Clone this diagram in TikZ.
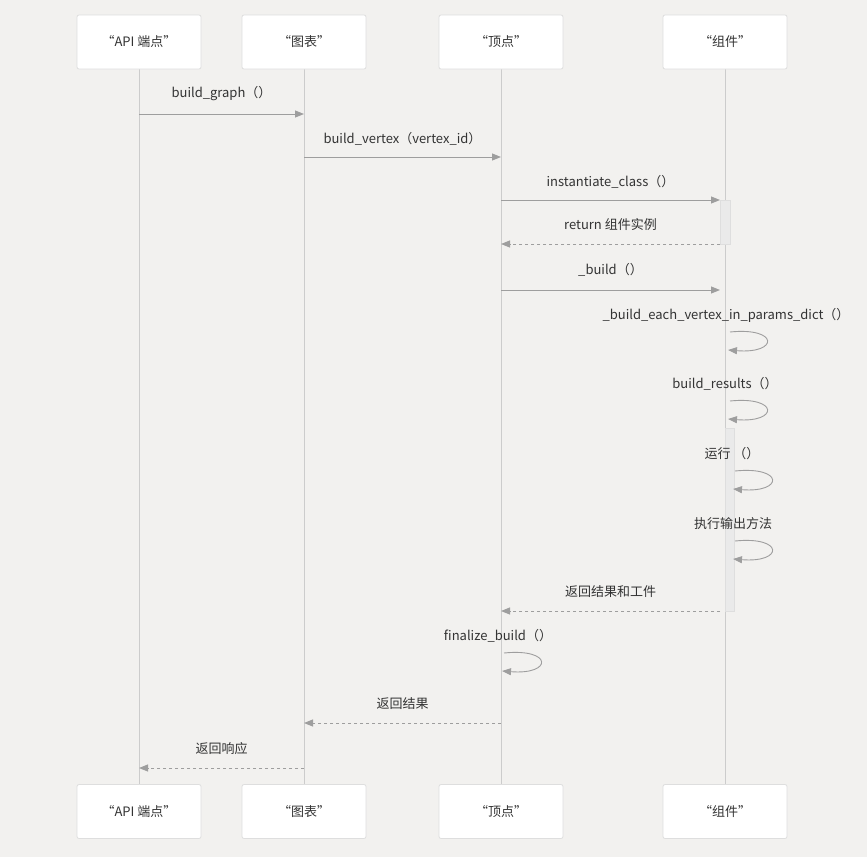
\documentclass[tikz,border=0pt]{standalone}
\usepackage{fontspec}
\setmainfont{Noto Sans CJK SC}
\usepackage{tikz}
\usetikzlibrary{arrows.meta,positioning,calc}
\definecolor{canvasgray}{HTML}{F2F1EF}
\definecolor{boxline}{HTML}{DEDEDE}
\definecolor{lifeline}{HTML}{CCCCCC}
\definecolor{msgline}{HTML}{9E9E9E}
\definecolor{labeltext}{HTML}{333333}
\definecolor{actfill}{HTML}{EAEAEA}

\begin{document}
\begin{tikzpicture}[x=1pt,y=-1pt,>={Triangle[length=9pt,width=7pt]}]
\tikzstyle{actor}=[draw=boxline,fill=white,rounded corners=2pt,minimum width=124pt,minimum height=54pt,font=\fontsize{13}{15}\selectfont,text=labeltext,line width=0.8pt]
\tikzstyle{msglabel}=[font=\fontsize{13}{15}\selectfont,text=labeltext,inner sep=0pt]
\tikzstyle{call}=[draw=msgline,line width=1pt,->]
\tikzstyle{reply}=[draw=msgline,line width=1pt,->,dash pattern=on 3pt off 3pt]
\tikzstyle{activation}=[draw=boxline,fill=actfill,line width=0.8pt]
\newcommand{\seqmsg}[7]{%
\coordinate (#1from) at (#3,#2);
\coordinate (#1to) at (#4,#2);
\node[msglabel] (#1) at ({(#3+#4)/2},#5+1) {#6};
\draw[#7] (#1from) -- (#1to);
}
\newcommand{\selfmsg}[5]{%
\node[msglabel] (#1) at (#4,#2-17) {#5};
\coordinate (#1from) at (#3+3,#2);
\coordinate (#1to) at (#3+1,#2+18);
\draw[call,line width=0.9pt] (#1from) .. controls (#3+52,#2-5) and (#3+52,#2+22) .. (#1to);
}
\fill[canvasgray] (0,0) rectangle (867,857);
\useasboundingbox (0,0) rectangle (867,857);
% lifelines
\draw[lifeline,line width=1pt] (139,69) -- (139,785);
\draw[lifeline,line width=1pt] (304,69) -- (304,785);
\draw[lifeline,line width=1pt] (501,69) -- (501,785);
\draw[lifeline,line width=1pt] (725,69) -- (725,785);
% participants
\node[actor] (apitop) at (139,42) {“API 端点”};
\node[actor] (graphtop) at (304,42) {“图表”};
\node[actor] (vertextop) at (501,42) {“顶点”};
\node[actor] (comptop) at (725,42) {“组件”};
\node[actor] (apibot) at (139,811.5) {“API 端点”};
\node[actor] (graphbot) at (304,811.5) {“图表”};
\node[actor] (vertexbot) at (501,811.5) {“顶点”};
\node[actor] (compbot) at (725,811.5) {“组件”};
% activations
\draw[activation] (720,200) rectangle (730,244);
\draw[activation] (725,428) rectangle (734,611);
% messages
\seqmsg{buildgraph}{114}{139}{304}{93}{build\_graph（）}{call}
\seqmsg{buildvertex}{157}{304}{501}{138}{build\_vertex（vertex\_id）}{call}
\seqmsg{instclass}{200}{501}{720}{181}{instantiate\_class（）}{call}
\seqmsg{retinst}{244}{720}{501}{224}{return 组件实例}{reply}
\seqmsg{build}{290}{501}{720}{269}{\_build（）}{call}
\selfmsg{eachvertex}{332}{727}{726}{\_build\_each\_vertex\_in\_params\_dict（）}
\selfmsg{buildresults}{401}{727}{725}{build\_results（）}
\selfmsg{run}{471}{732}{732}{运行 （）}
\selfmsg{output}{541}{732}{733}{执行输出方法}
\seqmsg{retartifacts}{611}{720}{501}{591}{返回结果和工件}{reply}
\selfmsg{finalize}{653}{501}{498}{finalize\_build（）}
\seqmsg{retresult}{723}{501}{304}{703}{返回结果}{reply}
\seqmsg{retresponse}{768}{304}{139}{748}{返回响应}{reply}
\end{tikzpicture}
\end{document}
